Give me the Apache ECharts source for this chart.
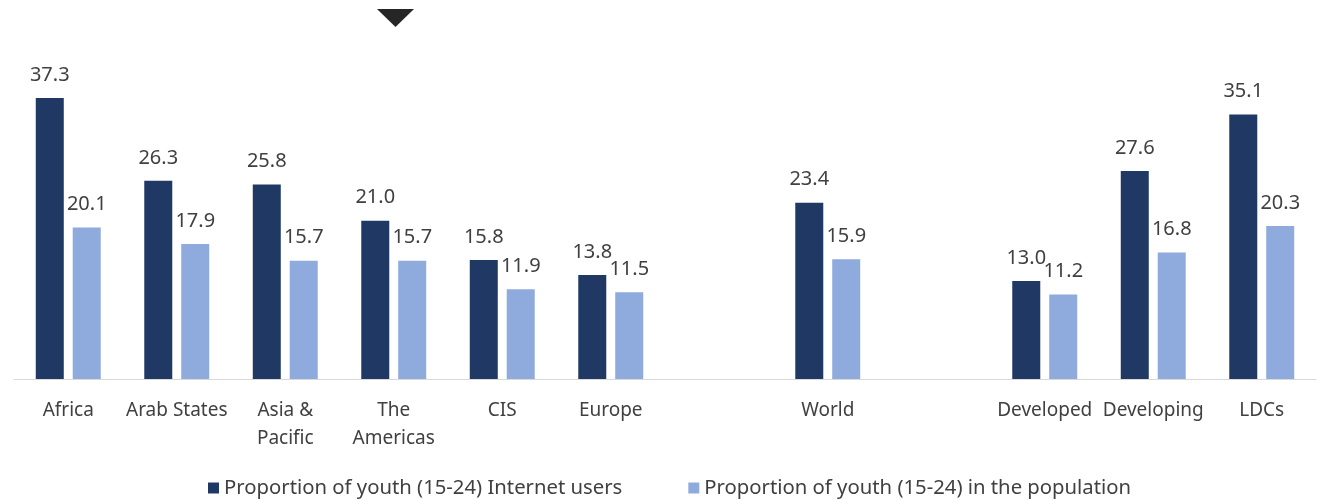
<!DOCTYPE html>
<html>
<head>
<meta charset="utf-8">
<script src="https://cdn.jsdelivr.net/npm/echarts@6/dist/echarts.min.js"></script>
<style>
html,body{margin:0;padding:0;background:#fff;}
#chart{width:1318px;height:500px;}
</style>
</head>
<body>
<div id="chart"></div>
<script>
const categories = ['Africa', 'Arab States', 'Asia &\nPacific', 'The\nAmericas', 'CIS', 'Europe', '', 'World', '', 'Developed', 'Developing', 'LDCs'];
const internetUsers = [37.3, 26.3, 25.8, 21.0, 15.8, 13.8, null, 23.4, null, 13.0, 27.6, 35.1];
const population = [20.1, 17.9, 15.7, 15.7, 11.9, 11.5, null, 15.9, null, 11.2, 16.8, 20.3];
const seriesNames = ['Proportion of youth (15-24) Internet users', 'Proportion of youth (15-24) in the population'];

const textColor = '#404040';
const font = 'Noto Sans';
const chart = echarts.init(document.getElementById('chart'), null, {renderer: 'canvas'});
const labelCfg = {
  show: true, position: 'top', distance: 13, color: textColor,
  fontFamily: font, fontSize: 20,
  formatter: p => p.value == null ? '' : Number(p.value).toFixed(1)
};
chart.setOption({
  animation: false,
  backgroundColor: '#fff',
  grid: {left: 14, right: 2, top: 77.6, bottom: 121, containLabel: false},
  legend: {
    left: 208, top: 478, padding: 0,
    itemWidth: 11, itemHeight: 11, itemGap: 66,
    icon: 'rect',
    textStyle: {color: textColor, fontFamily: font, fontSize: 20.3},
    data: seriesNames
  },
  xAxis: {
    type: 'category', data: categories,
    axisLine: {lineStyle: {color: '#d9d9d9', width: 1}},
    axisTick: {show: false},
    axisLabel: {color: textColor, fontFamily: font, fontSize: 19, lineHeight: 28, margin: 18, interval: 0}
  },
  yAxis: {type: 'value', min: 0, max: 40, show: false, splitLine: {show: false}},
  series: [
    {name: seriesNames[0], type: 'bar', data: internetUsers, barWidth: 28, barGap: '32%',
     itemStyle: {color: '#1f3864'}, label: labelCfg},
    {name: seriesNames[1], type: 'bar', data: population, barWidth: 28, barGap: '32%',
     itemStyle: {color: '#8faadc'}, label: labelCfg}
  ],
  graphic: [{
    type: 'polygon',
    shape: {points: [[377, 9], [414, 9], [395.5, 27]]},
    style: {fill: '#262626'}
  }]
});
</script>
</body>
</html>
